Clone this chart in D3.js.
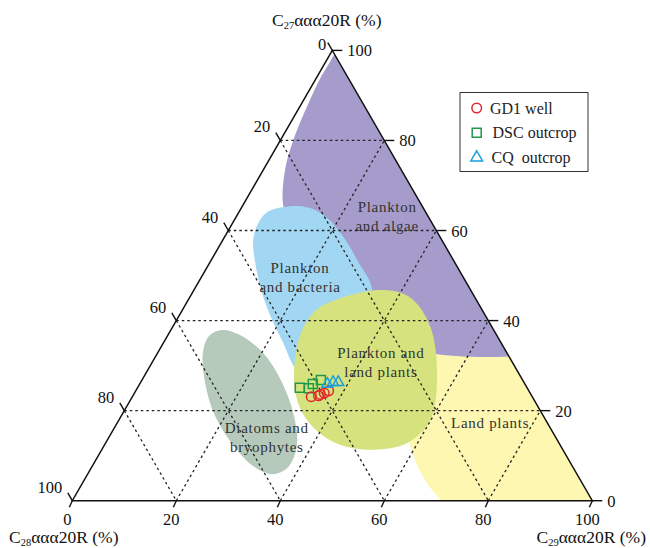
<!DOCTYPE html>
<html>
<head>
<meta charset="utf-8">
<script src="https://cdn.jsdelivr.net/npm/d3@7"></script>
<style>
  body { margin: 0; background: #fff; }
  text { font-family: "Liberation Serif", "DejaVu Serif", serif; }
</style>
</head>
<body>
<div id="chart"></div>
<script>
// Ternary values are [C27, C28, C29] in %
const tickValues = [0, 20, 40, 60, 80, 100];
const gridValues = [20, 40, 60, 80];

const gd1Well = [[23.1, 42.5, 34.4], [23.3, 41.0, 35.7], [23.6, 40.5, 35.9], [23.9, 39.6, 36.5], [24.4, 38.5, 37.1]];
const dscOutcrop = [[25.1, 43.7, 31.2], [25.0, 42.0, 33.0], [25.9, 40.8, 33.3], [26.8, 38.8, 34.4]];
const cqOutcrop = [[25.9, 38.0, 36.1], [26.3, 36.7, 37.0], [26.3, 35.7, 38.0]];

// region outlines as [C27, C29] (C28 = 100 - C27 - C29), clipped to the triangle
const landPlants = [[34.6, 50.5], [40.1, 75.7], [-4.3, 111.3], [-4.3, 75.8], [0, 70.9], [4.2, 65.9], [10.2, 60.4], [17.9, 55.0], [26.8, 51.9]];
const planktonAlgae = [[102.3, 2.3], [70, 40], [36.1, 77.7], [32.7, 53.0], [36.8, 43.7], [46.8, 29.0], [57.9, 13.9], [65.7, 7.7], [73.4, 4.2], [79.9, 2.5], [89.0, 1.2], [96.1, 0.8]];
const planktonBacteria = [[65.4, 9.2], [65.0, 13.2], [63.0, 17.3], [59.0, 22.4], [53.5, 28.0], [46.3, 34.5], [36.8, 34.0], [29.9, 30.0], [29.2, 28.6], [35.2, 22.9], [43.0, 15.9], [51.7, 9.5], [58.8, 5.5], [63.9, 5.3]];
const planktonLand = [[44.1, 27.5], [46.8, 35.8], [45.2, 42.3], [38.8, 49.4], [27.5, 56.4], [17.9, 59.9], [12.8, 58.0], [11.3, 52.2], [12.4, 45.3], [15.3, 39.6], [19.5, 34.5], [24.6, 30.5], [31.2, 27.2], [37.5, 25.3], [41.7, 25.5]];
const diatoms = [[37.9, 9.9], [36.6, 14.3], [32.8, 20.3], [26.8, 26.7], [19.0, 33.1], [12.4, 37.0], [7.5, 37.8], [5.9, 35.5], [7.7, 30.9], [12.4, 24.7], [19.0, 17.9], [26.1, 12.5], [32.8, 8.7], [36.6, 8.0]];

const regions = [
  { name: 'land', pts: landPlants, color: '#fdf7b1' },
  { name: 'algae', pts: planktonAlgae, color: '#a59ccb' },
  { name: 'bacteria', pts: planktonBacteria, color: '#a2d7f3' },
  { name: 'landplank', pts: planktonLand, color: '#d6e27d' },
  { name: 'diatoms', pts: diatoms, color: '#b6cabb' }
];

// region labels: [C27, C29] at the first line's baseline centre
const regionLabels = [
  { at: [64.1, 28.5], lines: ['Plankton', 'and algae'] },
  { at: [50.6, 18.5], lines: ['Plankton', 'and bacteria'] },
  { at: [31.7, 43.5], lines: ['Plankton and', 'land plants'] },
  { at: [15.0, 29.9], lines: ['Diatoms and', 'bryophytes'] },
  { at: [16.1, 72.3], lines: ['Land plants'] }
];

const width = 650, height = 548;
const h3 = Math.sqrt(3) / 2;

const x = d3.scaleLinear().domain([0, 100]).range([72.3, 592.3]);
const y = d3.scaleLinear().domain([0, 100 * h3]).range([500.7, 50.4]);

function proj(c27, c29) {
  return [x(c29 + c27 / 2), y(c27 * h3)];
}

const svg = d3.select('#chart').append('svg')
  .attr('width', width)
  .attr('height', height)
  .style('background', '#fff');

const corners = [proj(100, 0), proj(0, 0), proj(0, 100)];

svg.append('clipPath').attr('id', 'tri')
  .append('path')
  .attr('d', 'M' + corners.join('L') + 'Z');

const regionG = svg.append('g').attr('clip-path', 'url(#tri)');
const area = d3.line().curve(d3.curveCatmullRomClosed.alpha(0.5));
regionG.selectAll('path')
  .data(regions)
  .join('path')
  .attr('d', d => area(d.pts.map(p => proj(p[0], p[1]))))
  .attr('fill', d => d.color);

// dotted grid
const gridG = svg.append('g')
  .attr('stroke', '#222')
  .attr('stroke-width', 1.3)
  .attr('stroke-dasharray', '2.5,3');
gridValues.forEach(v => {
  const segs = [
    [proj(v, 0), proj(v, 100 - v)],           // C27 constant
    [proj(100 - v, 0), proj(0, 100 - v)],     // C28 constant
    [proj(0, v), proj(100 - v, v)]            // C29 constant
  ];
  segs.forEach(s => {
    gridG.append('line')
      .attr('x1', s[0][0]).attr('y1', s[0][1])
      .attr('x2', s[1][0]).attr('y2', s[1][1]);
  });
});

// triangle frame
svg.append('path')
  .attr('d', 'M' + corners.join('L') + 'Z')
  .attr('fill', 'none')
  .attr('stroke', '#111')
  .attr('stroke-width', 1.5);

// ticks and labels
const tickG = svg.append('g').attr('stroke', '#111').attr('stroke-width', 1.4);
const labelG = svg.append('g').attr('font-size', 16.5).attr('fill', '#111');

tickValues.forEach(t => {
  // left axis: C28 (0 at apex, 100 at bottom-left)
  let p = proj(100 - t, 0);
  tickG.append('line')
    .attr('x1', p[0]).attr('y1', p[1])
    .attr('x2', p[0] - 4.5).attr('y2', p[1] - 7.8);
  labelG.append('text')
    .attr('text-anchor', 'end')
    .attr('x', t === 0 ? p[0] - 6 : p[0] - 10)
    .attr('y', t === 0 ? p[1] - 0.5 : p[1] - 8)
    .text(t);

  // bottom axis: C29
  p = proj(0, t);
  tickG.append('line')
    .attr('x1', p[0]).attr('y1', p[1])
    .attr('x2', p[0] - 3).attr('y2', p[1] + 6.5);
  labelG.append('text')
    .attr('text-anchor', 'middle')
    .attr('x', p[0] - 5)
    .attr('y', p[1] + 24)
    .text(t);

  // right axis: C27
  p = proj(t, 100 - t);
  tickG.append('line')
    .attr('x1', p[0]).attr('y1', p[1])
    .attr('x2', p[0] + 10).attr('y2', p[1]);
  labelG.append('text')
    .attr('x', p[0] + 15)
    .attr('y', p[1] + 6)
    .text(t);
});

// axis titles
function axisTitle(sub, xPos, yPos, anchor) {
  const t = svg.append('text')
    .attr('x', xPos).attr('y', yPos)
    .attr('font-size', 17.5)
    .attr('fill', '#111')
    .attr('text-anchor', anchor);
  t.append('tspan').text('C');
  t.append('tspan').attr('font-size', 10.5).attr('dy', 2.5).text(sub);
  t.append('tspan').attr('dy', -2.5).text('ααα20R (%)');
}
axisTitle('27', 272, 26, 'start');
axisTitle('28', 9, 543, 'start');
axisTitle('29', 646, 543, 'end');

// region labels
const rl = svg.append('g')
  .attr('font-size', 15)
  .attr('fill', '#333')
  .attr('letter-spacing', 0.7)
  .attr('text-anchor', 'middle');
regionLabels.forEach(r => {
  const c = proj(r.at[0], r.at[1]);
  r.lines.forEach((line, i) => {
    rl.append('text')
      .attr('x', c[0])
      .attr('y', c[1] + i * 19)
      .text(line);
  });
});

// samples
const circleColor = '#e3262b', squareColor = '#1c9a4a', triColor = '#1a9fdc';
const pts = svg.append('g').attr('fill', 'none').attr('stroke-width', 1.5);

pts.selectAll('.sq')
  .data(dscOutcrop)
  .join('path')
  .attr('transform', d => 'translate(' + proj(d[0], d[2]) + ')')
  .attr('d', d3.symbol(d3.symbolSquare, 81))
  .attr('stroke', squareColor);

pts.selectAll('.ci')
  .data(gd1Well)
  .join('circle')
  .attr('cx', d => proj(d[0], d[2])[0])
  .attr('cy', d => proj(d[0], d[2])[1])
  .attr('r', 4.8)
  .attr('stroke', circleColor);

pts.selectAll('.tr')
  .data(cqOutcrop)
  .join('path')
  .attr('transform', d => 'translate(' + proj(d[0], d[2]) + ')')
  .attr('d', d3.symbol(d3.symbolTriangle, 52))
  .attr('stroke', triColor);

// legend
const legend = svg.append('g');
legend.append('rect')
  .attr('x', 460).attr('y', 92.5)
  .attr('width', 128).attr('height', 79)
  .attr('fill', '#fff')
  .attr('stroke', '#333')
  .attr('stroke-width', 1);

const legendItems = [
  { label: 'GD1 well', type: 'circle', color: circleColor, tx: 490 },
  { label: 'DSC outcrop', type: 'square', color: squareColor, tx: 492.5 },
  { label: 'CQ\u00a0 outcrop', type: 'triangle', color: triColor, tx: 491.5 }
];
legendItems.forEach((d, i) => {
  const cy = 108 + i * 24.8;
  if (d.type === 'circle') {
    legend.append('circle').attr('cx', 476.7).attr('cy', cy).attr('r', 4.8)
      .attr('fill', 'none').attr('stroke', d.color).attr('stroke-width', 1.5);
  } else {
    legend.append('path')
      .attr('transform', 'translate(476.7,' + cy + ')')
      .attr('d', d3.symbol(d.type === 'square' ? d3.symbolSquare : d3.symbolTriangle, d.type === 'square' ? 81 : 60))
      .attr('fill', 'none').attr('stroke', d.color).attr('stroke-width', 1.5);
  }
  legend.append('text')
    .attr('x', d.tx).attr('y', cy + 5.5)
    .attr('font-size', 16)
    .attr('fill', '#222')
    .text(d.label);
});
</script>
</body>
</html>
